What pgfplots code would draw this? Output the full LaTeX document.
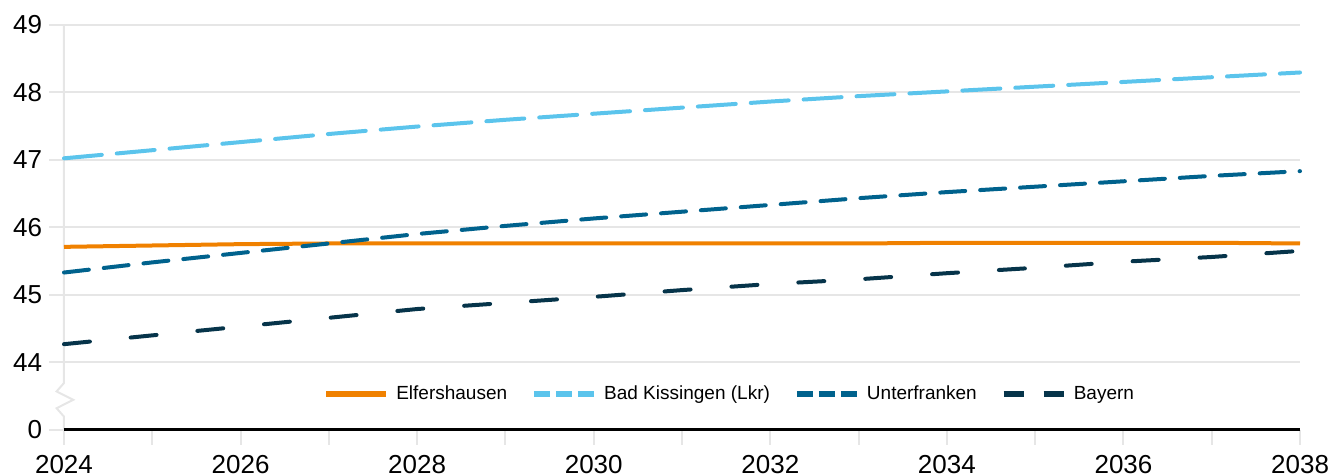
\documentclass[border=0pt]{standalone}
\usepackage{pgfplots}
\pgfplotsset{compat=1.18}
\usepackage{pgfplotstable}
\usepackage{fontspec}
\setmainfont{Liberation Sans}
\definecolor{cEl}{HTML}{F08100}
\definecolor{cBK}{HTML}{5BC4EC}
\definecolor{cUF}{HTML}{00628D}
\definecolor{cBY}{HTML}{06344A}
\definecolor{gridc}{HTML}{E6E6E6}
\pgfplotstableread{
year BK UF BY EL
2024 47.02 45.33 44.27 45.71
2025 47.14 45.48 44.40 45.73
2026 47.26 45.62 44.53 45.75
2027 47.38 45.76 44.66 45.76
2028 47.49 45.90 44.79 45.76
2029 47.59 46.02 44.88 45.76
2030 47.68 46.13 44.97 45.76
2031 47.77 46.23 45.07 45.76
2032 47.86 46.33 45.16 45.76
2033 47.94 46.43 45.23 45.76
2034 48.01 46.52 45.32 45.77
2035 48.08 46.60 45.40 45.77
2036 48.15 46.68 45.49 45.77
2037 48.22 46.76 45.56 45.77
2038 48.29 46.83 45.65 45.76
}\data
\begin{document}
\begin{tikzpicture}
\path[use as bounding box] (-32pt,-23pt) rectangle (635.5pt,215pt);
\begin{axis}[
  at={(0,0)}, anchor=south west,
  scale only axis, width=618pt, height=202.75pt,
  xmin=2024, xmax=2038, ymin=0, ymax=6,
  clip=false,
  axis line style={draw=none},
  xtick={2024,2026,...,2038}, minor xtick={2025,2027,...,2037},
  ytick={0,...,6}, yticklabels={0,44,45,46,47,48,49},
  xtick pos=bottom, ytick pos=left,
  tick align=outside,
  major tick length=7.5pt, minor tick length=7.5pt,
  tick style={draw=gridc, line width=1pt},
  minor tick style={draw=gridc, line width=1pt},
  ymajorgrids, major grid style={draw=gridc, line width=1pt},
  /pgf/number format/1000 sep={},
  /pgf/number format/assume math mode=true,
  tick label style={font=\fontsize{13}{15}\selectfont},
  xticklabel style={yshift=-1.5pt},
  y filter/.expression={y-43},
  legend columns=4,
  legend cell align=left,
  legend style={draw=none, fill=none, at={(0.5392,0.089)}, anchor=center,
    font=\fontsize{9.5}{11}\selectfont,
    nodes={text height=1.6ex, text depth=0.45ex},
    /tikz/every odd column/.append style={column sep=1.5pt},
    /tikz/every even column/.append style={column sep=9.8pt}},
]
\draw[gridc, line width=1pt] (axis cs:2024,6) -- (axis cs:2024,0.695) -- ++(-3.7pt,-4.2pt) -- ++(8.3pt,-4.2pt) -- ++(-8.3pt,-4.2pt) -- ++(3.7pt,-4.2pt) -- (axis cs:2024,0);
\draw[black, line width=1.5pt] (axis cs:2024,0) -- (axis cs:2038,0);
\addplot[cEl, line width=2pt, line join=round,
  legend image code/.code={\draw[cEl, line width=3.2pt, line cap=butt, solid] (0pt,0pt) -- (30pt,0pt);}]
  table[x=year,y=EL] {\data};
\addlegendentry{Elfershausen}
\addplot[cBK, line width=2pt, line cap=round, dash pattern=on 19pt off 7.5pt,
  legend image code/.code={\draw[cBK, line width=3.2pt, line cap=butt, dash pattern=on 8pt off 3pt] (0pt,0pt) -- (30pt,0pt);}]
  table[x=year,y=BK] {\data};
\addlegendentry{Bad Kissingen (Lkr)}
\addplot[cUF, line width=2pt, line cap=round, dash pattern=on 12.5pt off 7.5pt,
  legend image code/.code={\draw[cUF, line width=3.2pt, line cap=butt, dash pattern=on 8pt off 3pt] (0pt,0pt) -- (30pt,0pt);}]
  table[x=year,y=UF] {\data};
\addlegendentry{Unterfranken}
\addplot[cBY, line width=2pt, line cap=round, dash pattern=on 13pt off 20.5pt,
  legend image code/.code={\draw[cBY, line width=3.2pt, line cap=butt, dash pattern=on 10pt off 10pt] (0pt,0pt) -- (30pt,0pt);}]
  table[x=year,y=BY] {\data};
\addlegendentry{Bayern}
\end{axis}
\end{tikzpicture}
\end{document}
